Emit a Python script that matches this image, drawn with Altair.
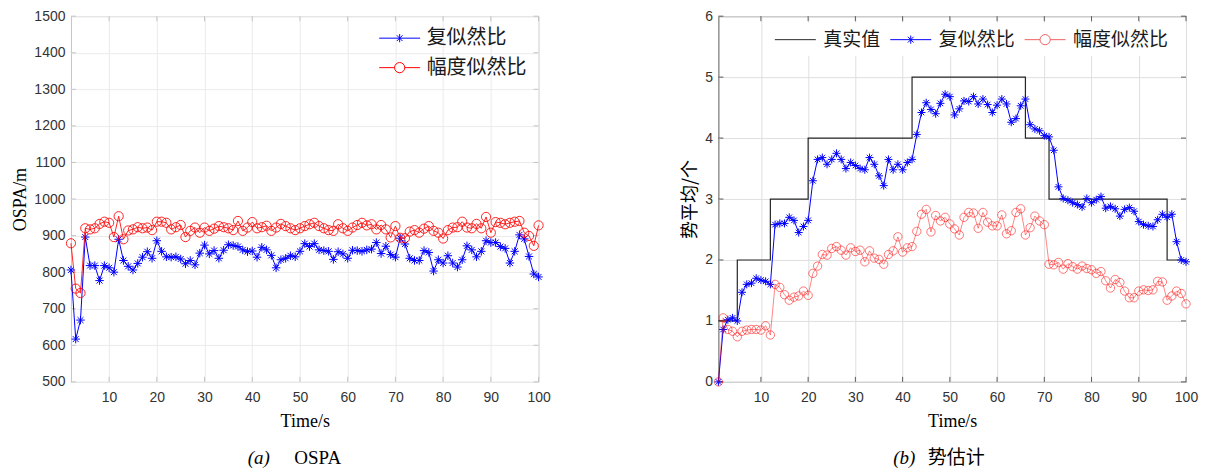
import altair as alt
import pandas as pd

# ---------------- data ----------------
t_left = list(range(2, 101))
ospa_complex = [806, 617, 669, 896, 818, 818, 777, 818, 812, 800,
                890, 832, 816, 806, 824, 841, 856, 838, 886, 857,
                842, 841, 842, 836, 823, 832, 820, 852, 874, 850,
                859, 838, 860, 875, 873, 870, 861, 856, 858, 841,
                868, 861, 846, 812, 834, 838, 845, 842, 857, 878,
                870, 878, 861, 859, 857, 835, 856, 850, 838, 860,
                859, 857, 861, 863, 881, 851, 871, 848, 841, 893,
                877, 838, 832, 832, 859, 854, 803, 834, 825, 845,
                825, 814, 834, 872, 861, 842, 857, 886, 881, 881,
                870, 865, 825, 857, 902, 891, 843, 795, 787]
ospa_amp = [879, 755, 743, 920, 917, 920, 932, 938, 935, 896,
            953, 890, 914, 917, 923, 920, 922, 915, 938, 938,
            935, 917, 923, 929, 896, 913, 922, 908, 922, 913,
            919, 926, 923, 920, 915, 940, 913, 922, 937, 920,
            923, 927, 913, 922, 932, 926, 920, 915, 920, 926,
            931, 935, 926, 920, 915, 913, 931, 920, 913, 922,
            929, 935, 928, 931, 917, 929, 917, 895, 926, 894,
            893, 911, 915, 908, 919, 926, 913, 908, 892, 915,
            922, 923, 938, 922, 920, 932, 920, 951, 908, 937,
            935, 931, 935, 938, 940, 908, 899, 872, 928]

t_right = list(range(1, 101))
card_true = [1] * 4 + [2] * 7 + [3] * 8 + [4] * 22 + [5] * 24 + [4] * 5 + [3] * 25 + [2] * 5
card_complex = [0, 0.86, 1.02, 1.05, 1.0, 1.47, 1.6, 1.62, 1.7, 1.67,
                1.65, 1.6, 2.58, 2.6, 2.6, 2.7, 2.65, 2.45, 2.55, 2.65,
                3.3, 3.65, 3.68, 3.57, 3.65, 3.75, 3.65, 3.5, 3.6, 3.55,
                3.5, 3.48, 3.68, 3.57, 3.38, 3.22, 3.65, 3.48, 3.57, 3.48,
                3.6, 3.65, 4.06, 4.42, 4.58, 4.47, 4.4, 4.57, 4.72, 4.68,
                4.38, 4.48, 4.61, 4.6, 4.68, 4.56, 4.64, 4.55, 4.42, 4.54,
                4.64, 4.56, 4.26, 4.32, 4.53, 4.64, 4.22, 4.15, 4.12, 4.04,
                4.02, 3.8, 3.2, 3.01, 2.98, 2.94, 2.91, 2.87, 3.01, 2.94,
                2.99, 3.04, 2.85, 2.88, 2.84, 2.72, 2.83, 2.86, 2.8, 2.63,
                2.58, 2.56, 2.55, 2.66, 2.75, 2.7, 2.75, 2.3, 2.0, 1.97]
card_amp = [0, 1.05, 0.86, 0.83, 0.74, 0.83, 0.85, 0.86, 0.86, 0.85,
            0.92, 0.77, 1.6, 1.55, 1.43, 1.34, 1.39, 1.41, 1.49, 1.42,
            1.78, 1.9, 2.09, 2.08, 2.19, 2.22, 2.16, 2.08, 2.2, 2.14,
            2.16, 1.97, 2.15, 2.03, 2.01, 1.93, 2.09, 2.15, 2.38, 2.13,
            2.2, 2.22, 2.47, 2.75, 2.83, 2.46, 2.73, 2.64, 2.7, 2.59,
            2.51, 2.41, 2.7, 2.78, 2.77, 2.52, 2.78, 2.62, 2.56, 2.56,
            2.74, 2.43, 2.48, 2.78, 2.84, 2.41, 2.53, 2.72, 2.64, 2.58,
            1.93, 1.92, 1.96, 1.85, 1.94, 1.89, 1.85, 1.9, 1.86, 1.84,
            1.78, 1.81, 1.66, 1.54, 1.68, 1.63, 1.49, 1.38, 1.38, 1.49,
            1.51, 1.5, 1.51, 1.65, 1.64, 1.34, 1.41, 1.49, 1.45, 1.28]

left_names = ["复似然比", "幅度似然比"]
right_names = ["真实值", "复似然比", "幅度似然比"]
x_ticks = [10, 20, 30, 40, 50, 60, 70, 80, 90, 100]
y_ticks_left = list(range(500, 1501, 100))
y_ticks_right = [0, 1, 2, 3, 4, 5, 6]
cap_a = ["(a)", "OSPA"]
cap_b = ["(b)", "势估计"]

# ---------------- styles ----------------
BLUE = "#0000ff"
RED = "#ff0000"
BLACK = "#262626"
SERIF = "Liberation Serif"
SANS = "Liberation Sans"
CJK = "Noto Sans CJK SC"

AST = "M-1,0L1,0M0,-1L0,1M-0.7,-0.7L0.7,0.7M-0.7,0.7L0.7,-0.7"
AST_LEG = "M-2,0L2,0M0,-0.4L0,0.4M-0.28,-0.28L0.28,0.28M-0.28,0.28L0.28,-0.28"
CIR_LEG = "M-2,0L-0.5,0A0.5,0.5,0,1,1,0.5,0A0.5,0.5,0,1,1,-0.5,0M0.5,0L2,0"
LINE_LEG = "M-2,0L2,0"

W, H = 468, 366
TK = 5  # inward tick length


def x_enc(domain, grid_color):
    return alt.X("t:Q", scale=alt.Scale(domain=domain, nice=False, zero=False),
                 axis=alt.Axis(values=x_ticks, title="Time/s", titleFont=SERIF,
                               titleFontSize=18, titleFontWeight="normal", titleColor="black",
                               titlePadding=8, labelFont=SANS, labelFontSize=14,
                               labelColor="#333333", labelPadding=9, labelFlush=False,
                               format="d", ticks=False, domain=False, grid=True,
                               gridColor=grid_color))


def y_enc(domain, ticks, title, title_font, tpad, grid_color):
    return alt.Y("v:Q", scale=alt.Scale(domain=domain, nice=False, zero=False),
                 axis=alt.Axis(values=ticks, title=title, titleFont=title_font,
                               titleFontSize=18, titleFontWeight="normal", titleColor="black",
                               titlePadding=tpad, labelFont=SANS, labelFontSize=14,
                               labelColor="#333333", labelPadding=6, labelFlush=False,
                               format="d", ticks=False, domain=False, grid=True,
                               gridColor=grid_color))


def tick_layers(X, Y, yticks, color):
    dx = pd.DataFrame({"t": x_ticks})
    dy = pd.DataFrame({"v": yticks})
    return [
        alt.Chart(dx).mark_rule(color=color, strokeWidth=1).encode(
            x=X, y=alt.value(H), y2=alt.value(H - TK)),
        alt.Chart(dx).mark_rule(color=color, strokeWidth=1).encode(
            x=X, y=alt.value(0), y2=alt.value(TK)),
        alt.Chart(dy).mark_rule(color=color, strokeWidth=1).encode(
            y=Y, x=alt.value(0), x2=alt.value(TK)),
        alt.Chart(dy).mark_rule(color=color, strokeWidth=1).encode(
            y=Y, x=alt.value(W), x2=alt.value(W - TK)),
    ]


def caption_layer(texts, xs, y):
    df = pd.DataFrame({"c": texts})
    a = alt.Chart(df).transform_filter(alt.datum.c == texts[0]).mark_text(
        font=SERIF, fontSize=19, fontStyle="italic", color="black").encode(
        text="c:N", x=alt.value(xs[0]), y=alt.value(y))
    b = alt.Chart(df).transform_filter(alt.datum.c == texts[1]).mark_text(
        font=SERIF if texts[1] == "OSPA" else CJK, fontSize=19, color="black").encode(
        text="c:N", x=alt.value(xs[1]), y=alt.value(y))
    return [a, b]


# ---------------- left panel ----------------
GL = "#ebebeb"
XL = x_enc([2, 100], GL)
YL = y_enc([500, 1500], y_ticks_left, "OSPA/m", SERIF, 4, GL)

dfl_c = pd.DataFrame({"t": t_left, "v": ospa_complex})
dfl_a = pd.DataFrame({"t": t_left, "v": ospa_amp})

l_line_c = alt.Chart(dfl_c).mark_line(color=BLUE, strokeWidth=1).encode(x=XL, y=YL)
l_pt_c = alt.Chart(dfl_c).mark_point(shape=AST, size=72, color=BLUE, strokeWidth=1,
                                     filled=False, opacity=1).encode(x=XL, y=YL)
l_line_a = alt.Chart(dfl_a).mark_line(color=RED, strokeWidth=1, opacity=0.85).encode(x=XL, y=YL)
l_pt_a = alt.Chart(dfl_a).mark_point(shape="circle", size=85, color=RED, strokeWidth=1,
                                     filled=False, opacity=0.85).encode(x=XL, y=YL)

leg_l_cfg = dict(orient="none", legendX=318, legendY=11, title=None, padding=0,
                 direction="vertical", rowPadding=8.5, labelOffset=16, labelFont=CJK,
                 labelFontSize=20, labelColor="#1a1a1a", symbolSize=420,
                 symbolStrokeWidth=1, labelLimit=300)
l_leg = alt.Chart(pd.DataFrame({"s": left_names})).transform_filter("false").mark_point(
    filled=False, size=420, strokeWidth=1, opacity=1).encode(
    color=alt.Color("s:N", scale=alt.Scale(domain=left_names, range=[BLUE, RED]),
                    legend=alt.Legend(**leg_l_cfg)),
    shape=alt.Shape("s:N", scale=alt.Scale(domain=left_names, range=[AST_LEG, CIR_LEG]),
                    legend=alt.Legend(**leg_l_cfg)))

left = alt.layer(*tick_layers(XL, YL, y_ticks_left, "#c4c4c4"),
                 l_line_c, l_pt_c, l_line_a, l_pt_a, l_leg,
                 *caption_layer(cap_a, [188, 247], 442)).properties(
    width=W, height=H, view=alt.ViewBackground(stroke="#c4c4c4", strokeWidth=1))

# ---------------- right panel ----------------
GR = "#dfdfdf"
XR = x_enc([1, 100], GR)
YR = y_enc([0, 6], y_ticks_right, "势平均/个", CJK, 5, GR)

dfr_t = pd.DataFrame({"t": t_right, "v": card_true})
dfr_c = pd.DataFrame({"t": t_right, "v": card_complex})
dfr_a = pd.DataFrame({"t": t_right, "v": card_amp})

r_true = alt.Chart(dfr_t).mark_line(color=BLACK, strokeWidth=1.2, interpolate="step-after").encode(x=XR, y=YR)
r_line_c = alt.Chart(dfr_c).mark_line(color=BLUE, strokeWidth=1).encode(x=XR, y=YR)
r_pt_c = alt.Chart(dfr_c).mark_point(shape=AST, size=64, color=BLUE, strokeWidth=1,
                                     filled=False, opacity=1).encode(x=XR, y=YR)
r_line_a = alt.Chart(dfr_a).mark_line(color=RED, strokeWidth=0.8, opacity=0.6).encode(x=XR, y=YR)
r_pt_a = alt.Chart(dfr_a).mark_point(shape="circle", size=70, color=RED, strokeWidth=0.9,
                                     filled=False, opacity=0.6).encode(x=XR, y=YR)

leg_r_cfg = dict(orient="none", legendX=60, legendY=6.5, title=None, padding=6,
                 direction="horizontal", columnPadding=6.5, labelOffset=17, labelFont=CJK,
                 labelFontSize=19, labelColor="#1a1a1a", symbolSize=420,
                 symbolStrokeWidth=1, labelLimit=300, fillColor="white")
r_leg = alt.Chart(pd.DataFrame({"s": right_names})).transform_filter("false").mark_point(
    filled=False, size=420, strokeWidth=1, opacity=1).encode(
    color=alt.Color("s:N", scale=alt.Scale(domain=right_names, range=[BLACK, BLUE, "#f06060"]),
                    legend=alt.Legend(**leg_r_cfg)),
    shape=alt.Shape("s:N", scale=alt.Scale(domain=right_names, range=[LINE_LEG, AST_LEG, CIR_LEG]),
                    legend=alt.Legend(**leg_r_cfg)))

right = alt.layer(*tick_layers(XR, YR, y_ticks_right, "#5a5a5a"),
                  r_true, r_line_c, r_pt_c, r_line_a, r_pt_a, r_leg,
                  *caption_layer(cap_b, [186, 238], 442)).properties(
    width=W, height=H, view=alt.ViewBackground(stroke="#5a5a5a", strokeWidth=1))

chart = alt.hconcat(left, right, spacing=180, bounds="flush").resolve_scale(
    color="independent", shape="independent").properties(
    padding={"left": 3, "top": 0, "right": 0, "bottom": 0})

chart.save("out.html", embed_options={"renderer": "svg", "actions": False})
